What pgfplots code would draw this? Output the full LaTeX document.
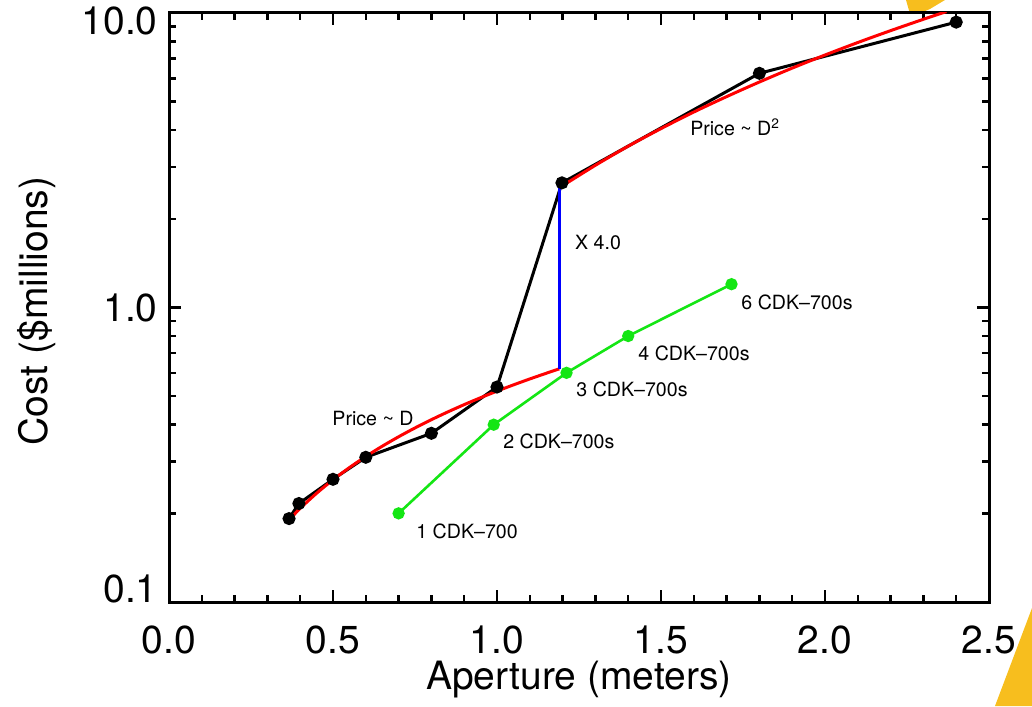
\documentclass[border=0pt]{standalone}
\usepackage{fontspec}
\setmainfont{TeX Gyre Heros}
\usepackage{pgfplots}
\pgfplotsset{compat=1.18}
\definecolor{ygreen}{RGB}{20,230,20}
\definecolor{slideyellow}{RGB}{247,190,30}
\begin{document}
\begin{tikzpicture}
\useasboundingbox (0,0) rectangle (516pt,353pt);
\fill[slideyellow] (453pt,353pt) -- (455pt,346pt) -- (459pt,346pt) -- (465pt,348.5pt) -- (470pt,351.5pt) -- (472.5pt,353pt) -- cycle;
\fill[slideyellow] (516pt,49pt) -- (497.5pt,0pt) -- (516pt,0pt) -- cycle;
\begin{axis}[
  at={(84.5pt,52pt)}, anchor=south west,
  scale only axis, width=410pt, height=294.5pt,
  xmin=0, xmax=2.5, ymin=0.1, ymax=10,
  ymode=log,
  axis line style={line width=1.5pt},
  every tick/.style={line width=1.2pt, black},
  major tick length=6pt, minor tick length=3.5pt,
  tick align=inside,
  xtick={0,0.5,1,1.5,2,2.5},
  xticklabels={0.0,0.5,1.0,1.5,2.0,2.5},
  minor x tick num=4,
  ytick={0.1,1,10},
  yticklabels={\raisebox{6.5pt}[\height][\depth]{0.1},1.0,\raisebox{-4pt}[\height][\depth]{10.0}},
  /pgf/number format/assume math mode=true,
  tick label style={font=\fontsize{19.5}{23}\selectfont, inner sep=0pt},
  xticklabel style={yshift=-11.5pt},
  yticklabel style={xshift=-5.5pt},
  xlabel={Aperture (meters)},
  ylabel={Cost (\$millions)},
  label style={font=\fontsize{19.5}{23}\selectfont, inner sep=0pt},
  xlabel style={at={(axis description cs:0.5,-0.148)}, anchor=base},
  ylabel style={at={(axis description cs:-0.1476,0.494)}, anchor=base, rotate=0},
  axis background/.style={fill=white},
]
% black: actual telescope prices
\addplot[black, line width=1.5pt, mark=*, mark size=2.5pt] coordinates {
  (0.366,0.192) (0.396,0.216) (0.5,0.261) (0.6,0.31) (0.8,0.374) (1.0,0.537)
  (1.198,2.65) (1.8,6.24) (2.4,9.31)
};
% red: Price ~ D
\addplot[red, line width=1.5pt, smooth] coordinates {
  (0.37,0.192) (0.4,0.208) (0.45,0.234) (0.5,0.26) (0.55,0.286) (0.6,0.312)
  (0.65,0.338) (0.7,0.364) (0.75,0.39) (0.8,0.416) (0.85,0.442) (0.9,0.468)
  (0.95,0.494) (1.0,0.52) (1.05,0.546) (1.1,0.572) (1.15,0.598) (1.19,0.619)
};
% red: Price ~ D^2
\addplot[red, line width=1.5pt, smooth] coordinates {
  (1.19,2.55) (1.3,3.04) (1.4,3.53) (1.5,4.05) (1.6,4.61) (1.7,5.20)
  (1.8,5.83) (1.9,6.50) (2.0,7.20) (2.1,7.94) (2.2,8.71) (2.3,9.52) (2.37,10.11)
};
% blue jump
\addplot[blue, line width=1.3pt] coordinates {(1.19,0.62) (1.19,2.55)};
% green: CDK-700 arrays
\addplot[ygreen, line width=1.3pt, mark=*, mark size=2.4pt] coordinates {
  (0.7,0.2) (0.99,0.4) (1.212,0.6) (1.4,0.8) (1.715,1.2)
};
\begin{scope}[every node/.style={font=\fontsize{9.8}{12}\selectfont, inner sep=0pt}]
\node at (axis cs:0.622,0.421) {Price \textasciitilde{} D};
\node at (axis cs:1.726,4.10) {Price \textasciitilde{} D\textsuperscript{2}};
\node at (axis cs:1.308,1.656) {X 4.0};
\node[anchor=west] at (axis cs:1.744,1.044) {6 CDK--700s};
\node[anchor=west] at (axis cs:1.43,0.70) {4 CDK--700s};
\node[anchor=west] at (axis cs:1.241,0.529) {3 CDK--700s};
\node[anchor=west] at (axis cs:1.018,0.352) {2 CDK--700s};
\node[anchor=west] at (axis cs:0.753,0.174) {1 CDK--700};
\end{scope}
\end{axis}
\end{tikzpicture}
\end{document}
